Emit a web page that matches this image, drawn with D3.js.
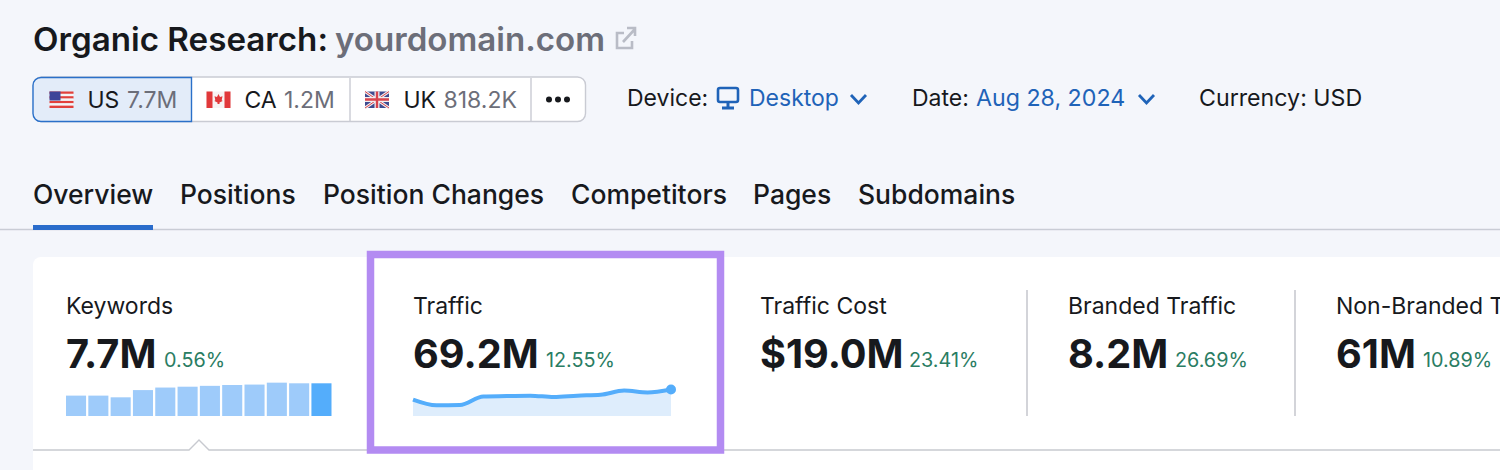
<!DOCTYPE html>
<html><head><meta charset="utf-8">
<script src="https://cdnjs.cloudflare.com/ajax/libs/d3/7.8.5/d3.min.js"></script>
<style>html,body{margin:0;padding:0;background:#f4f6fb;overflow:hidden}svg{display:block}text{font-family:Inter,"Noto Sans",sans-serif}</style>
</head><body><div id="chart"></div>
<script>
// Data
const tabs = ["Overview","Positions","Position Changes","Competitors","Pages","Subdomains"];
const metricNames = ["Keywords","Traffic","Traffic Cost","Branded Traffic","Non-Branded Traffic"];
const metricValues = ["7.7M","69.2M","$19.0M","8.2M","61M"];
const metricChanges = ["0.56%","12.55%","23.41%","26.69%","10.89%"];
const keywordBars = [4.8,4.8,4.4,6.1,6.7,6.9,7.1,7.3,7.4,7.85,7.7,7.7];
const trafficLine = [58.1,51.9,52.2,61.6,62,62.4,60.9,62.4,63.4,68,66,69.2];
const dbCodes = ["US","CA","UK"];
const dbValues = ["7.7M","1.2M","818.2K"];

const W=1500,H=470;
const svg=d3.select("#chart").append("svg").attr("width",W).attr("height",H);
const ink="#17191d", blue="#1f63b8", grey="#6c6e79", green="#2a7d63";
function T(x,y,s,size,fill,weight,parent){return (parent||svg).append("text").attr("x",x).attr("y",y).attr("font-size",size).attr("fill",fill).attr("font-weight",weight||400).text(s);}

// Title
T(33,51,"Organic Research:",32.5,ink,600).attr("textLength",295).attr("lengthAdjust","spacingAndGlyphs");
T(335,51,"yourdomain.com",32.5,"#6c6e79",600).attr("textLength",270).attr("lengthAdjust","spacingAndGlyphs");
const ext=svg.append("g").attr("fill","none").attr("stroke","#b9bcc6").attr("stroke-width",2.6);
ext.append("path").attr("d","M624 33h-7v15h15v-7");
ext.append("path").attr("d","M623 42l12-13M627 28h8v8");

// Database selector
svg.append("rect").attr("x",33.5).attr("y",77).attr("width",552).attr("height",44.5).attr("rx",8).attr("fill","#fff").attr("stroke","#c9cbd3").attr("stroke-width",1.4);
svg.append("path").attr("d","M191.5 77.5H41a8 8 0 0 0-8 8v28a8 8 0 0 0 8 8H191.5Z").attr("fill","#e3ecf9").attr("stroke","#2a70c9").attr("stroke-width",1.4);
[350,531].forEach(x=>svg.append("line").attr("x1",x).attr("x2",x).attr("y1",78).attr("y2",121).attr("stroke","#c9cbd3").attr("stroke-width",1.4));
const flagX=[49.5,206.5,365], codeX=[88,245,404], valX=[127,284,443.5];
const fw=24,fh=16.5,fy=91.5;
// US
for(let i=0;i<7;i++)svg.append("rect").attr("x",flagX[0]).attr("y",fy+i*fh/7).attr("width",fw).attr("height",fh/7).attr("fill",i%2?"#f4f4f6":"#e2403c");
svg.append("rect").attr("x",flagX[0]).attr("y",fy).attr("width",11).attr("height",9).attr("fill","#3d4499");
// CA
svg.append("rect").attr("x",flagX[1]).attr("y",fy).attr("width",fw).attr("height",fh).attr("fill","#f7f3f3");
svg.append("rect").attr("x",flagX[1]).attr("y",fy).attr("width",6).attr("height",fh).attr("fill","#e1383a");
svg.append("rect").attr("x",flagX[1]+18).attr("y",fy).attr("width",6).attr("height",fh).attr("fill","#e1383a");
svg.append("path").attr("d",`M${flagX[1]+12} ${fy+2.5}l1.5 3 2.5-.8-.8 4 1 .8-3.2 1.5v1.5h-2v-1.5l-3.2-1.5 1-.8-.8-4 2.5.8Z`).attr("fill","#e1383a");
// UK
const ukx=flagX[2];
svg.append("rect").attr("x",ukx).attr("y",fy).attr("width",fw).attr("height",fh).attr("fill","#3f4a8f");
svg.append("path").attr("d",`M${ukx} ${fy}L${ukx+fw} ${fy+fh}M${ukx+fw} ${fy}L${ukx} ${fy+fh}`).attr("stroke","#f1eef0").attr("stroke-width",3);
svg.append("path").attr("d",`M${ukx} ${fy}L${ukx+fw} ${fy+fh}M${ukx+fw} ${fy}L${ukx} ${fy+fh}`).attr("stroke","#d8434c").attr("stroke-width",1);
svg.append("path").attr("d",`M${ukx+12} ${fy}v${fh}M${ukx} ${fy+8}h${fw}`).attr("stroke","#f1eef0").attr("stroke-width",5);
svg.append("path").attr("d",`M${ukx+12} ${fy}v${fh}M${ukx} ${fy+8}h${fw}`).attr("stroke","#d8434c").attr("stroke-width",2.4);
dbCodes.forEach((c,i)=>{T(codeX[i]-0.5,108,c,23,ink);T(valX[i],108,dbValues[i],23,grey);});
[549,558,567].forEach(x=>svg.append("circle").attr("cx",x).attr("cy",99.5).attr("r",3).attr("fill",ink));

// Filters
T(627,106,"Device:",23,ink);
svg.append("rect").attr("x",718).attr("y",88).attr("width",20).attr("height",14).attr("rx",2).attr("fill","none").attr("stroke",blue).attr("stroke-width",2.6);
svg.append("path").attr("d","M728 103v4M722 108h12").attr("stroke",blue).attr("stroke-width",3);
T(749,106,"Desktop",23,blue);
T(912,106,"Date:",23,ink);
T(976,106,"Aug 28, 2024",23.2,blue);
T(1199,106,"Currency: USD",23.2,ink);
[[851,866],[1139,1154]].forEach(([a,b])=>svg.append("path").attr("d",`M${a} 95l${(b-a)/2} 8 ${(b-a)/2}-8`).attr("fill","none").attr("stroke",blue).attr("stroke-width",2.8));

// Tabs
const tabX=[33,180,323,571,753,858];
tabs.forEach((t,i)=>T(tabX[i],204,t,26.5,ink,450));
svg.append("line").attr("x1",0).attr("x2",W).attr("y1",229.5).attr("y2",229.5).attr("stroke","#c9ccd5").attr("stroke-width",1.5);
svg.append("rect").attr("x",33).attr("y",225).attr("width",120).attr("height",5).attr("fill","#2a6ccb");

// Card
svg.append("path").attr("d","M33 470V265a8 8 0 0 1 8-8H1500V470Z").attr("fill","#fff");
svg.append("path").attr("d",`M33 450H189L199 440L209 450H${W}`).attr("fill","none").attr("stroke","#c8cad0").attr("stroke-width",1.4);
[1027,1295].forEach(x=>svg.append("line").attr("x1",x).attr("x2",x).attr("y1",290).attr("y2",416).attr("stroke","#c8cad0").attr("stroke-width",1.6));

// Metrics
const mx=[66,413,760,1068,1336], chgX=[164,546,909,1175,1423];
metricNames.forEach((n,i)=>{
  T(mx[i],314,n,23,ink);
  T(mx[i],368,metricValues[i],39.7,ink,700);
  T(chgX[i],367,metricChanges[i],19.8,green);
});

// Keywords bars
const xb=d3.scaleBand().domain(d3.range(keywordBars.length)).range([66,331.5]).paddingInner(0.1).paddingOuter(0);
const yb=d3.scaleLinear().domain([0,7.7]).range([416,383.3]);
svg.append("g").selectAll("rect").data(keywordBars).join("rect")
  .attr("x",(d,i)=>xb(i)).attr("y",d=>yb(d)).attr("width",xb.bandwidth()).attr("height",d=>416-yb(d))
  .attr("fill",(d,i)=>i===keywordBars.length-1?"#54adfb":"#9ecbfa");

// Traffic sparkline
const xl=d3.scaleLinear().domain([0,trafficLine.length-1]).range([413,671]);
const yl=d3.scaleLinear().domain([40,69.2]).range([416,389.5]);
const curve=d3.curveMonotoneX;
const area=d3.area().curve(curve).x((d,i)=>xl(i)).y0(416).y1(d=>yl(d));
const line=d3.line().curve(curve).x((d,i)=>xl(i)).y(d=>yl(d));
svg.append("path").datum(trafficLine).attr("d",area).attr("fill","#deedfc");
svg.append("path").datum(trafficLine).attr("d",line).attr("fill","none").attr("stroke","#54adfb").attr("stroke-width",4).attr("stroke-linejoin","round");
svg.append("circle").attr("cx",xl(trafficLine.length-1)).attr("cy",yl(trafficLine[trafficLine.length-1])).attr("r",5).attr("fill","#54adfb");

// Highlight frame
svg.append("rect").attr("x",370.5).attr("y",254.5).attr("width",350).attr("height",195.5).attr("fill","none").attr("stroke","#b38bf2").attr("stroke-width",7.5);
</script></body></html>
